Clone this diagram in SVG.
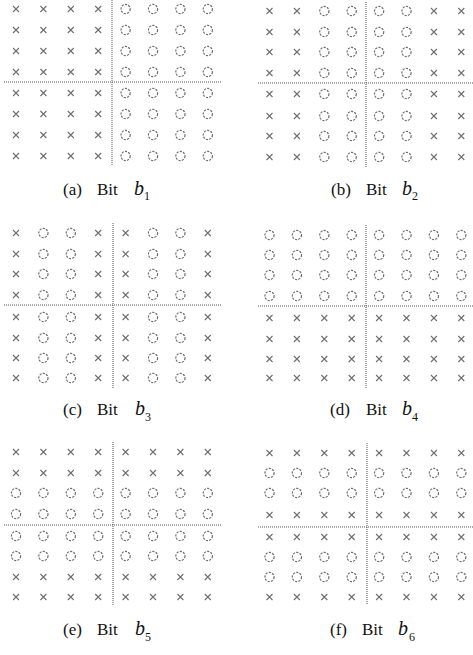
<svg xmlns="http://www.w3.org/2000/svg" xmlns:xlink="http://www.w3.org/1999/xlink" width="473" height="655" viewBox="0 0 473 655">
<style>
.x{fill:none;stroke:#6e6e6e;stroke-width:1.1}
.o{fill:none;stroke:#6e6e6e;stroke-width:1.2;stroke-dasharray:2.2 1.2}
.ax{fill:none;stroke:#555;stroke-width:1;stroke-dasharray:1 1}
.cap{font-size:17px;fill:#111}
.b{font-style:italic;font-size:20px}
.s{font-size:12px}
</style>
<defs>
<path id="X" class="x" d="M-3,-3L3,3M3,-3L-3,3"/>
<circle id="O" class="o" r="4.6"/>
<g id="rowA"><use href="#X" x="0"/><use href="#X" x="27.4"/><use href="#X" x="54.8"/><use href="#X" x="82.2"/><use href="#O" x="109.6"/><use href="#O" x="137"/><use href="#O" x="164.4"/><use href="#O" x="191.8"/></g>
<g id="rowB"><use href="#X" x="0"/><use href="#X" x="27.4"/><use href="#O" x="54.8"/><use href="#O" x="82.2"/><use href="#O" x="109.6"/><use href="#O" x="137"/><use href="#X" x="164.4"/><use href="#X" x="191.8"/></g>
<g id="rowC"><use href="#X" x="0"/><use href="#O" x="27.4"/><use href="#O" x="54.8"/><use href="#X" x="82.2"/><use href="#X" x="109.6"/><use href="#O" x="137"/><use href="#O" x="164.4"/><use href="#X" x="191.8"/></g>
<g id="rowO"><use href="#O" x="0"/><use href="#O" x="27.4"/><use href="#O" x="54.8"/><use href="#O" x="82.2"/><use href="#O" x="109.6"/><use href="#O" x="137"/><use href="#O" x="164.4"/><use href="#O" x="191.8"/></g>
<g id="rowX"><use href="#X" x="0"/><use href="#X" x="27.4"/><use href="#X" x="54.8"/><use href="#X" x="82.2"/><use href="#X" x="109.6"/><use href="#X" x="137"/><use href="#X" x="164.4"/><use href="#X" x="191.8"/></g>
</defs>
<rect width="473" height="655" fill="#fff"/>

<g id="connectors">
<path class="ax" d="M4,82H222M112,0V165"/>
<path class="ax" d="M258,83H473M366,2V167"/>
<path class="ax" d="M4,305H222M113,223V388"/>
<path class="ax" d="M258,306H473M366,225V388"/>
<path class="ax" d="M4,525H222M113,442V605"/>
<path class="ax" d="M258,527H473M367,443V605"/>
</g>

<g id="panel-a">
<use href="#rowA" x="16" y="9"/><use href="#rowA" x="16" y="30"/><use href="#rowA" x="16" y="51"/><use href="#rowA" x="16" y="72"/>
<use href="#rowA" x="16" y="93"/><use href="#rowA" x="16" y="114"/><use href="#rowA" x="16" y="135"/><use href="#rowA" x="16" y="156"/>
<text class="cap" font-family="'Liberation Serif', 'Times New Roman', serif" y="195"><tspan x="63">(a)</tspan><tspan x="97">Bit</tspan><tspan x="134" class="b">b</tspan><tspan x="144" dy="5" class="s">1</tspan></text>
</g>

<g id="panel-b">
<use href="#rowB" x="269.5" y="11"/><use href="#rowB" x="269.5" y="32"/><use href="#rowB" x="269.5" y="52"/><use href="#rowB" x="269.5" y="73"/>
<use href="#rowB" x="269.5" y="94"/><use href="#rowB" x="269.5" y="116"/><use href="#rowB" x="269.5" y="136"/><use href="#rowB" x="269.5" y="157"/>
<text class="cap" font-family="'Liberation Serif', 'Times New Roman', serif" y="195"><tspan x="331">(b)</tspan><tspan x="366">Bit</tspan><tspan x="402" class="b">b</tspan><tspan x="412" dy="5" class="s">2</tspan></text>
</g>

<g id="panel-c">
<use href="#rowC" x="16" y="233"/><use href="#rowC" x="16" y="254"/><use href="#rowC" x="16" y="274"/><use href="#rowC" x="16" y="295"/>
<use href="#rowC" x="16" y="317"/><use href="#rowC" x="16" y="338"/><use href="#rowC" x="16" y="358"/><use href="#rowC" x="16" y="378"/>
<text class="cap" font-family="'Liberation Serif', 'Times New Roman', serif" y="415"><tspan x="63">(c)</tspan><tspan x="97">Bit</tspan><tspan x="135" class="b">b</tspan><tspan x="145" dy="6" class="s">3</tspan></text>
</g>

<g id="panel-d">
<use href="#rowO" x="269.5" y="235"/><use href="#rowO" x="269.5" y="255"/><use href="#rowO" x="269.5" y="275"/><use href="#rowO" x="269.5" y="296"/>
<use href="#rowX" x="269.5" y="318"/><use href="#rowX" x="269.5" y="339"/><use href="#rowX" x="269.5" y="359"/><use href="#rowX" x="269.5" y="378"/>
<text class="cap" font-family="'Liberation Serif', 'Times New Roman', serif" y="415"><tspan x="330">(d)</tspan><tspan x="366">Bit</tspan><tspan x="402" class="b">b</tspan><tspan x="412" dy="6" class="s">4</tspan></text>
</g>

<g id="panel-e">
<use href="#rowX" x="16" y="452"/><use href="#rowX" x="16" y="473"/><use href="#rowO" x="16" y="493"/><use href="#rowO" x="16" y="514"/>
<use href="#rowO" x="16" y="536"/><use href="#rowO" x="16" y="556"/><use href="#rowX" x="16" y="577"/><use href="#rowX" x="16" y="597"/>
<text class="cap" font-family="'Liberation Serif', 'Times New Roman', serif" y="635"><tspan x="63">(e)</tspan><tspan x="97">Bit</tspan><tspan x="135" class="b">b</tspan><tspan x="145" dy="6" class="s">5</tspan></text>
</g>

<g id="panel-f">
<use href="#rowX" x="269.5" y="453"/><use href="#rowO" x="269.5" y="473"/><use href="#rowO" x="269.5" y="493"/><use href="#rowX" x="269.5" y="515"/>
<use href="#rowX" x="269.5" y="537"/><use href="#rowO" x="269.5" y="557"/><use href="#rowO" x="269.5" y="577"/><use href="#rowX" x="269.5" y="597"/>
<text class="cap" font-family="'Liberation Serif', 'Times New Roman', serif" y="635"><tspan x="330">(f)</tspan><tspan x="362">Bit</tspan><tspan x="398" class="b">b</tspan><tspan x="409" dy="6" class="s">6</tspan></text>
</g>
</svg>
